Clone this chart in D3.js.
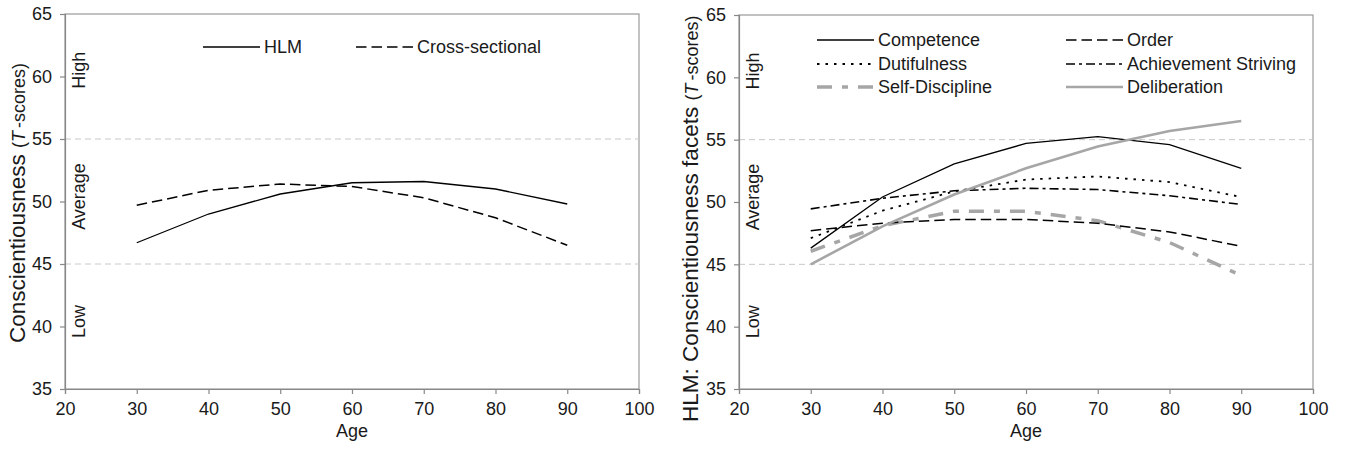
<!doctype html>
<html lang="en">
<head>
    <title></title>
    <script src="https://d3js.org/d3.v7.min.js"></script>
    <style type="text/css">
        body { margin: 0; background: #fff; }
        text { font-family: "Liberation Sans", Arial, sans-serif; fill: #1a1a1a; }
    </style>
</head>

<body>
</body>

<script type="text/javascript">

    var width  = 1348;
    var height = 451;

    var ages = [30, 40, 50, 60, 70, 80, 90];
    var xTicks = [20, 30, 40, 50, 60, 70, 80, 90, 100];
    var yTicks = [35, 40, 45, 50, 55, 60, 65];
    var gridValues = [45, 55];
    var bandLabels = ["High", "Average", "Low"];
    var bandValues = [60.5, 50.4, 40.4];

    // left panel
    var hlm            = [46.7, 49.0, 50.6, 51.5, 51.6, 51.0, 49.8];
    var crossSectional = [49.7, 50.9, 51.4, 51.2, 50.3, 48.7, 46.5];

    // right panel facets
    var competence     = [46.3, 50.4, 53.05, 54.7, 55.25, 54.6, 52.7];
    var order          = [47.7, 48.3, 48.6, 48.6, 48.3, 47.6, 46.45];
    var dutifulness    = [47.1, 49.3, 50.85, 51.8, 52.05, 51.6, 50.4];
    var achievement    = [49.45, 50.3, 50.9, 51.1, 51.0, 50.5, 49.8];
    var selfDiscipline = [46.05, 48.1, 49.25, 49.25, 48.5, 46.75, 44.1];
    var deliberation   = [45.0, 48.05, 50.6, 52.7, 54.45, 55.7, 56.5];

    var styles = {
        solid:    {color: "#000", w: 1.3, dash: null},
        dashed:   {color: "#000", w: 1.5, dash: "10.5,5"},
        dotted:   {color: "#000", w: 1.8, dash: "2.5,6"},
        dashdot:  {color: "#000", w: 1.6, dash: "9,4,3,4"},
        grayDash: {color: "#a6a6a6", w: 3.5, dash: "15,10,6,10"},
        graySolid:{color: "#a6a6a6", w: 2.6, dash: null}
    };

    var svg = d3.select("body")
        .append("svg")
        .attr("width", width)
        .attr("height", height);

    function panel(opts) {
        var x = d3.scaleLinear().domain([20, 100]).range([opts.left, opts.right]);
        var y = d3.scaleLinear().domain([35, 65]).range([389, opts.top]);
        var g = svg.append("g");

        // frame
        g.append("rect")
            .attr("x", x(20)).attr("y", y(65))
            .attr("width", x(100) - x(20)).attr("height", y(35) - y(65))
            .attr("fill", "none").attr("stroke", "#999").attr("stroke-width", 1.2);

        g.selectAll(".grid").data(gridValues).enter().append("line")
            .attr("x1", x(20)).attr("x2", x(100))
            .attr("y1", d => y(d)).attr("y2", d => y(d))
            .attr("stroke", "#c8c8c8").attr("stroke-dasharray", "6,4");

        var xAxis = g.append("g")
            .attr("transform", "translate(0," + y(35) + ")")
            .call(d3.axisBottom(x).tickValues(xTicks).tickSize(5).tickPadding(8));
        var yAxis = g.append("g")
            .attr("transform", "translate(" + x(20) + ",0)")
            .call(d3.axisLeft(y).tickValues(yTicks).tickSize(5).tickPadding(8));
        [xAxis, yAxis].forEach(function(a) {
            a.selectAll("path, line").attr("stroke", "#888").attr("stroke-width", 1.2);
            a.selectAll("text").style("font-size", "18px").attr("fill", "#1a1a1a")
                .style("font-family", "Liberation Sans, Arial, sans-serif");
        });

        g.append("text")
            .attr("x", x(60)).attr("y", 437)
            .attr("text-anchor", "middle")
            .style("font-size", "18px")
            .text("Age");

        // band labels
        g.selectAll(".band").data(bandLabels).enter().append("text")
            .attr("transform", (d, i) => "translate(" + (x(20) + 20) + "," + y(bandValues[i]) + ") rotate(-90)")
            .attr("text-anchor", "middle")
            .style("font-size", "18px")
            .text(d => d);

        // y title
        var t = g.append("text")
            .attr("transform", "translate(" + opts.titleX + "," + opts.titleY + ") rotate(-90)")
            .attr("text-anchor", "start");
        t.append("tspan").style("font-size", "22.5px").text(opts.title + " ");
        t.append("tspan").style("font-size", "18px").text("(");
        t.append("tspan").style("font-size", "18px").style("font-style", "italic").text("T");
        t.append("tspan").style("font-size", "18px").attr("dx", 3).text("-scores)");

        var line = d3.line().x((d, i) => x(ages[i])).y(d => y(d));

        opts.series.forEach(function(s) {
            var st = styles[s.style];
            g.append("path")
                .datum(s.values)
                .attr("d", line)
                .attr("fill", "none")
                .attr("stroke", st.color)
                .attr("stroke-width", st.w)
                .attr("stroke-dasharray", st.dash);

            var lg = g.append("g").attr("transform", "translate(" + s.lx + "," + s.ly + ")");
            lg.append("line")
                .attr("x1", 0).attr("x2", 57)
                .attr("stroke", st.color)
                .attr("stroke-width", st.w)
                .attr("stroke-dasharray", st.dash);
            lg.append("text")
                .attr("x", 61).attr("dy", "0.35em")
                .style("font-size", "18px")
                .text(s.name);
        });
    }

    panel({
        left: 65, right: 639, top: 14,
        title: "Conscientiousness", titleX: 25, titleY: 343,
        series: [
            {name: "HLM", values: hlm, style: "solid", lx: 203, ly: 47},
            {name: "Cross-sectional", values: crossSectional, style: "dashed", lx: 356, ly: 47}
        ]
    });

    panel({
        left: 739, right: 1313, top: 15,
        title: "HLM: Conscientiousness facets", titleX: 698, titleY: 422,
        series: [
            {name: "Competence", values: competence, style: "solid", lx: 817, ly: 40},
            {name: "Dutifulness", values: dutifulness, style: "dotted", lx: 817, ly: 64},
            {name: "Self-Discipline", values: selfDiscipline, style: "grayDash", lx: 817, ly: 87},
            {name: "Order", values: order, style: "dashed", lx: 1066, ly: 40},
            {name: "Achievement Striving", values: achievement, style: "dashdot", lx: 1066, ly: 64},
            {name: "Deliberation", values: deliberation, style: "graySolid", lx: 1066, ly: 87}
        ]
    });

</script>

</html>
